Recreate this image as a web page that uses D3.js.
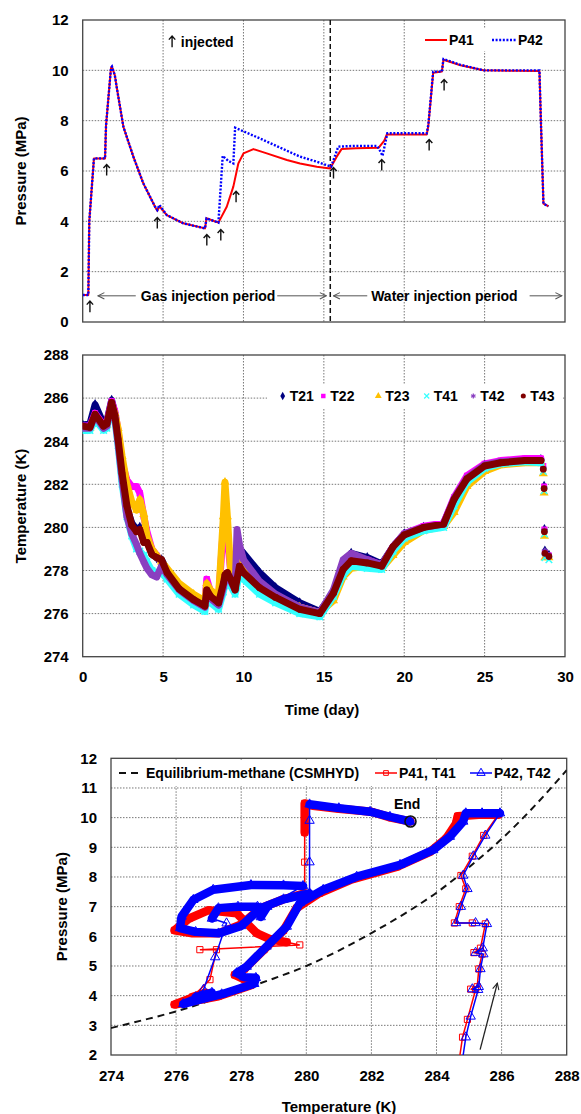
<!DOCTYPE html>
<html>
<head>
<meta charset="utf-8">
<script src="https://cdn.jsdelivr.net/npm/d3@7"></script>
<style>
body { margin: 0; background: #fff; }
svg text { font-family: "Liberation Sans", Arial, sans-serif; font-weight: bold; fill: #000; }
</style>
</head>
<body>
<svg id="chart" width="581" height="1114"></svg>
<script>
// ---- top panel: pressure vs time ----
var p41Days = [0, 0.35, 0.41, 0.56, 0.7, 1.39, 1.45, 1.76, 1.82, 2.0, 2.11, 2.53, 3.15, 3.77, 4.5, 4.64, 4.77, 5.23, 6.26, 7.61, 7.7, 8.44, 8.96, 9.37, 9.68, 10.0, 10.62, 11.45, 12.7, 13.52, 14.56, 15.39, 15.8, 16.1, 17.0, 18.4, 18.75, 18.92, 20.0, 21.4, 21.5, 21.8, 22.34, 22.44, 23.5, 24.93, 27.0, 28.41, 28.5, 28.66, 28.97];
var p41 = [1.07, 1.07, 4.0, 5.3, 6.5, 6.5, 7.8, 10.1, 10.15, 9.8, 9.35, 7.76, 6.57, 5.51, 4.58, 4.42, 4.6, 4.25, 3.92, 3.72, 4.12, 3.95, 4.58, 5.38, 6.3, 6.7, 6.87, 6.7, 6.44, 6.3, 6.17, 6.1, 6.57, 6.87, 6.9, 6.92, 7.2, 7.45, 7.45, 7.45, 7.8, 9.9, 9.95, 10.42, 10.2, 10.0, 9.98, 9.97, 8.0, 4.7, 4.6];
var p42Days = [0, 0.35, 0.41, 0.56, 0.7, 1.39, 1.45, 1.76, 1.82, 2.0, 2.11, 2.53, 3.15, 3.77, 4.5, 4.64, 4.77, 5.23, 6.26, 7.61, 7.7, 8.44, 8.71, 9.06, 9.37, 9.48, 11.0, 13.52, 14.56, 15.45, 15.9, 17.0, 18.3, 18.5, 18.65, 18.95, 20.0, 21.4, 21.5, 21.8, 22.34, 22.44, 23.5, 24.93, 27.0, 28.41, 28.5, 28.66, 28.97];
var p42 = [1.07, 1.07, 4.0, 5.3, 6.5, 6.5, 7.8, 10.1, 10.15, 9.8, 9.35, 7.76, 6.57, 5.51, 4.58, 4.45, 4.65, 4.25, 3.92, 3.72, 4.12, 3.95, 6.6, 6.4, 6.3, 7.72, 7.3, 6.57, 6.37, 6.17, 6.97, 7.0, 7.0, 6.8, 6.6, 7.5, 7.5, 7.5, 7.85, 9.95, 9.95, 10.45, 10.22, 10.0, 10.0, 10.0, 8.0, 4.7, 4.6];
// injection arrows (day, MPa at arrow centre)
var injDays = [0.45, 1.49, 4.64, 7.72, 8.59, 9.54, 15.6, 18.6, 21.55, 22.48];
var injP = [0.61, 6.04, 3.93, 3.26, 3.46, 4.98, 5.92, 6.24, 7.03, 9.42];

// ---- middle panel: temperature vs time ----
var tDays = [0, 0.45, 0.77, 1.3, 1.5, 1.8, 2.0, 2.2, 2.45, 2.75, 3.05, 3.35, 3.55, 3.8, 4.0, 4.3, 4.6, 4.9, 5.25, 6.0, 6.9, 7.6, 7.72, 7.95, 8.45, 8.75, 8.85, 9.0, 9.2, 9.48, 9.6, 9.75, 10.0, 11.0, 12.0, 13.5, 14.75, 15.6, 16.2, 16.7, 17.7, 18.6, 19.3, 20.0, 21.2, 22.45, 23.1, 23.9, 25.0, 26.0, 27.5, 28.5, 28.65, 28.7, 28.72, 28.75, 29.0];
var T21 = [284.75, 284.8, 285.7, 284.8, 284.9, 285.9, 285.3, 284.2, 282.4, 280.9, 280.2, 279.9, 280.0, 279.5, 279.4, 278.8, 278.6, 278.5, 278.0, 277.3, 276.8, 276.5, 277.2, 276.9, 276.6, 277.2, 277.6, 277.8, 277.6, 277.2, 278.2, 279.0, 278.8, 277.9, 277.2, 276.5, 276.1, 277.0, 278.3, 278.8, 278.6, 278.3, 279.1, 279.7, 280.0, 280.2, 281.3, 282.3, 282.9, 283.0, 283.1, 283.15, 282.8, 281.9, 279.9, 278.9, 278.7];
var T22 = [284.7, 284.7, 285.3, 284.75, 284.85, 285.85, 285.4, 284.5, 283.0, 282.2, 281.9, 281.9, 281.6, 280.5, 279.8, 279.0, 278.7, 278.4, 278.0, 277.3, 276.8, 276.5, 277.6, 277.0, 276.7, 280.0, 281.0, 279.5, 278.0, 277.3, 278.0, 278.6, 278.2, 277.3, 276.8, 276.3, 276.05, 277.0, 278.2, 278.6, 278.5, 278.25, 279.1, 279.7, 280.05, 280.2, 281.4, 282.4, 282.95, 283.1, 283.2, 283.2, 282.85, 281.9, 279.9, 278.8, 278.7];
var T23 = [284.65, 284.6, 285.2, 284.65, 284.75, 285.7, 285.3, 284.6, 283.3, 282.0, 281.2, 280.8, 281.3, 280.6, 279.6, 279.0, 278.7, 278.4, 278.1, 277.4, 276.9, 276.6, 277.4, 277.1, 276.8, 280.5, 282.1, 280.5, 278.0, 277.3, 278.0, 278.6, 278.3, 277.4, 276.85, 276.3, 276.05, 276.6, 277.7, 278.1, 278.2, 278.1, 278.7, 279.3, 279.85, 280.05, 280.7, 281.9, 282.6, 282.9, 283.0, 283.0, 282.5, 281.6, 279.6, 278.6, 278.6];
var T41 = [284.5, 284.5, 285.0, 284.5, 284.6, 285.6, 285.0, 283.8, 282.0, 280.5, 279.6, 279.0, 278.9, 278.7, 278.4, 278.0, 277.9, 277.9, 277.6, 276.9, 276.4, 276.1, 276.9, 276.5, 276.2, 277.0, 277.4, 277.6, 277.3, 276.9, 277.3, 277.9, 277.6, 276.9, 276.5, 276.0, 275.85, 276.8, 277.8, 278.2, 278.1, 278.05, 278.9, 279.5, 279.85, 280.0, 281.0, 282.1, 282.75, 282.95, 283.05, 283.0, 282.6, 281.7, 279.7, 278.6, 278.5];
var T42 = [284.6, 284.6, 285.2, 284.6, 284.7, 285.7, 285.1, 283.9, 282.2, 280.5, 279.7, 279.2, 278.8, 278.4, 278.1, 277.8, 277.7, 278.2, 277.8, 277.1, 276.6, 276.3, 277.0, 276.7, 276.4, 277.2, 277.6, 277.8, 277.5, 277.1, 279.9, 279.2, 278.5, 277.5, 276.9, 276.3, 276.05, 277.1, 278.5, 278.8, 278.5, 278.25, 279.1, 279.7, 280.0, 280.15, 281.35, 282.3, 282.9, 283.05, 283.1, 283.1, 282.7, 281.8, 279.85, 278.9, 278.7];
var T43 = [284.7, 284.65, 285.25, 284.7, 284.8, 285.8, 285.2, 284.1, 282.5, 281.0, 280.1, 279.8, 279.9, 279.3, 279.3, 278.75, 278.6, 278.5, 277.9, 277.15, 276.65, 276.35, 277.1, 276.8, 276.5, 277.4, 277.8, 277.9, 277.6, 277.1, 277.6, 278.2, 277.9, 277.2, 276.75, 276.2, 276.0, 276.95, 278.05, 278.45, 278.35, 278.2, 279.1, 279.65, 280.0, 280.15, 281.3, 282.25, 282.85, 283.0, 283.1, 283.1, 282.7, 281.8, 279.8, 278.8, 278.65];
var tNames = ["T21", "T22", "T23", "T41", "T42", "T43"];
var tColors = ["#000080", "#FF00FF", "#FFC000", "#33FFFF", "#8A3FC0", "#800000"];

// ---- bottom panel: pressure vs temperature ----
var eqT = [274, 275, 276, 277, 278, 279, 280, 281, 282, 283, 284, 285, 286, 287, 288];
var eqP = [2.91, 3.18, 3.47, 3.82, 4.2, 4.58, 5.0, 5.52, 6.11, 6.75, 7.47, 8.33, 9.28, 10.38, 11.6];
var redT = [284.6, 284.8, 284.95, 285.2, 285.05, 285.25, 285.3, 285.4, 285.15, 285.35, 285.5, 285.1, 284.55, 284.7, 284.9, 284.75, 285.1, 285.45, 285.9, 285.3, 284.65, 284.6, 284.3, 283.8, 282.8, 281.4, 280.4, 279.7, 279.3, 278.7, 278.1, 277.8, 278.1, 278.35, 278.3, 277.3, 275.95, 276.9, 276.5, 277.04, 277.24, 276.73, 279.8, 279.4, 278.9, 278.47, 277.86, 277.0, 276.4, 275.95, 276.5, 277.3, 278.0, 278.6, 279.3, 279.95, 279.95, 279.95, 279.95, 280.2, 281.0, 282.0, 282.6, 283.2];
var redP = [1.1, 2.6, 3.2, 4.2, 4.22, 4.3, 4.9, 5.4, 5.45, 5.6, 6.42, 6.45, 6.45, 7.0, 7.6, 8.05, 8.7, 9.4, 10.1, 10.1, 10.05, 9.8, 9.3, 8.85, 8.35, 7.92, 7.45, 6.95, 6.2, 5.55, 4.9, 4.7, 4.55, 4.5, 4.35, 3.98, 3.7, 4.1, 3.95, 4.54, 5.55, 5.55, 5.71, 5.8, 5.9, 6.11, 6.78, 6.88, 6.6, 6.2, 6.1, 6.1, 6.4, 6.95, 7.25, 7.45, 8.5, 9.5, 10.48, 10.4, 10.3, 10.2, 10.0, 9.87];
var blueT = [284.7, 284.9, 285.05, 285.28, 285.1, 285.3, 285.35, 285.44, 285.2, 285.42, 285.55, 285.2, 284.6, 284.75, 284.95, 284.82, 285.13, 285.5, 285.95, 285.4, 284.9, 284.82, 284.41, 283.9, 282.88, 281.55, 280.52, 279.8, 279.4, 278.78, 278.17, 277.86, 278.1, 278.45, 278.4, 277.4, 276.22, 277.1, 276.6, 276.84, 277.2, 277.55, 277.1, 277.3, 277.9, 278.5, 278.6, 278.8, 279.9, 279.3, 278.3, 277.14, 276.53, 276.17, 276.12, 276.6, 277.3, 278.0, 278.6, 279.3, 280.1, 280.1, 280.1, 280.1, 281.0, 281.96, 282.57, 283.19];
var blueP = [1.1, 2.6, 3.3, 4.2, 4.22, 4.3, 4.9, 5.4, 5.45, 5.6, 6.42, 6.45, 6.45, 7.0, 7.6, 8.05, 8.7, 9.4, 10.15, 10.15, 10.15, 9.87, 9.36, 8.91, 8.41, 8.01, 7.57, 7.12, 6.33, 5.66, 4.98, 4.76, 4.62, 4.6, 4.4, 4.05, 3.72, 4.1, 3.95, 4.2, 5.3, 6.44, 6.6, 6.95, 7.0, 7.0, 6.65, 7.0, 7.7, 7.72, 7.73, 7.57, 7.23, 6.67, 6.28, 6.15, 6.1, 6.35, 6.95, 7.25, 7.45, 8.5, 9.9, 10.45, 10.32, 10.2, 10.03, 9.87];
// index ranges where the markers pile up into a solid band (slow change)
var redBands = [[18, 38], [43, 55], [57, 63]];
var blueBands = [[18, 38], [42, 47], [48, 60], [63, 67]];

var svg = d3.select("#chart");

var xTime = d3.scaleLinear().domain([0, 30]).range([82.7, 565]);
var yP = d3.scaleLinear().domain([0, 12]).range([322, 20]);
var yT = d3.scaleLinear().domain([274, 288]).range([656.7, 355]);
var xPT = d3.scaleLinear().domain([274, 288]).range([111, 566.7]);
var yPT = d3.scaleLinear().domain([2, 12]).range([1055, 758.3]);

var defs = svg.append("defs");
function arrowMarker(id, color) {
  defs.append("marker").attr("id", id).attr("viewBox", "0 0 10 10")
    .attr("refX", 9).attr("refY", 5).attr("markerWidth", 8).attr("markerHeight", 8)
    .attr("markerUnits", "userSpaceOnUse").attr("orient", "auto")
    .append("path").attr("d", "M1,1 L9,5 L1,9").attr("fill", "none")
    .attr("stroke", color).attr("stroke-width", 1.3);
}
arrowMarker("ahGray", "#555");
arrowMarker("ahBlack", "#222");

function clip(id, x, y) {
  defs.append("clipPath").attr("id", id).append("rect")
    .attr("x", x.range()[0]).attr("y", y.range()[1])
    .attr("width", x.range()[1] - x.range()[0]).attr("height", y.range()[0] - y.range()[1]);
}
clip("clipTop", xTime, yP);
clip("clipMid", xTime, yT);
clip("clipBot", xPT, yPT);

// grid + frame + tick labels for one panel
function panel(x, y, xGrid, yGrid, xLabels, yLabels) {
  var g = svg.append("g");
  var x0 = x.range()[0], x1 = x.range()[1], y0 = y.range()[0], y1 = y.range()[1];
  g.selectAll(".vg").data(xGrid).enter().append("line")
    .attr("x1", d => x(d)).attr("x2", d => x(d)).attr("y1", y1).attr("y2", y0)
    .attr("stroke", "#777").attr("stroke-dasharray", "1.5,1.5");
  g.selectAll(".hg").data(yGrid).enter().append("line")
    .attr("y1", d => y(d)).attr("y2", d => y(d)).attr("x1", x0).attr("x2", x1)
    .attr("stroke", "#777").attr("stroke-dasharray", "1.5,1.5");
  g.append("rect").attr("x", x0).attr("y", y1).attr("width", x1 - x0).attr("height", y0 - y1)
    .attr("fill", "none").attr("stroke", "#444").attr("stroke-width", 1.3);
  var ya = g.append("g").attr("transform", `translate(${x0},0)`)
    .call(d3.axisLeft(y).tickValues(yLabels).tickSize(0).tickPadding(14).tickFormat(d3.format("d")));
  ya.select(".domain").remove();
  ya.selectAll("text").attr("font-size", 15);
  if (xLabels) {
    var xa = g.append("g").attr("transform", `translate(0,${y0})`)
      .call(d3.axisBottom(x).tickValues(xLabels).tickSize(0).tickPadding(15).tickFormat(d3.format("d")));
    xa.select(".domain").remove();
    xa.selectAll("text").attr("font-size", 15);
  }
  return g;
}

function title(txt, x, y, rot) {
  svg.append("text").attr("transform", `translate(${x},${y}) rotate(${rot || 0})`)
    .attr("text-anchor", "middle").attr("dominant-baseline", "central")
    .attr("font-size", 15).text(txt);
}

function upArrow(g, x, y) {
  g.append("path")
    .attr("d", `M${x},${y + 5.5}V${y - 5.5}M${x - 3.2},${y - 2}L${x},${y - 5.5}L${x + 3.2},${y - 2}`)
    .attr("fill", "none").attr("stroke", "#111").attr("stroke-width", 1.4);
}

// ================= TOP =================
panel(xTime, yP, [5, 10, 15, 20, 25], [2, 4, 6, 8, 10], null, [0, 2, 4, 6, 8, 10, 12]);
title("Pressure (MPa)", 20.7, 171, -90);

var topData = svg.append("g").attr("clip-path", "url(#clipTop)");
topData.append("line").attr("x1", xTime(15.4)).attr("x2", xTime(15.4))
  .attr("y1", yP(12)).attr("y2", yP(0))
  .attr("stroke", "#111").attr("stroke-width", 1.5).attr("stroke-dasharray", "5,3");

var lineTop = d3.line().x(d => xTime(d[0])).y(d => yP(d[1]));
topData.append("path").datum(d3.zip(p41Days, p41)).attr("d", lineTop)
  .attr("fill", "none").attr("stroke", "#FF0000").attr("stroke-width", 2).attr("stroke-linejoin", "round");
topData.append("path").datum(d3.zip(p42Days, p42)).attr("d", lineTop)
  .attr("fill", "none").attr("stroke", "#0000FF").attr("stroke-width", 2.4).attr("stroke-dasharray", "2,1.6");

injDays.forEach((d, i) => upArrow(svg, xTime(d), yP(injP[i])));

// "injected" key
upArrow(svg, xTime(5.56), yP(11.14));
svg.append("text").attr("x", xTime(6.1)).attr("y", yP(11.14) + 5).attr("font-size", 14).text("injected");

// legend P41 / P42
svg.append("rect").attr("x", 420).attr("y", 29).attr("width", 142).attr("height", 22).attr("fill", "#fff");
svg.append("line").attr("x1", 425).attr("x2", 447).attr("y1", 40).attr("y2", 40)
  .attr("stroke", "#FF0000").attr("stroke-width", 2);
svg.append("text").attr("x", 449).attr("y", 45).attr("font-size", 14).text("P41");
svg.append("line").attr("x1", 492).attr("x2", 517).attr("y1", 40).attr("y2", 40)
  .attr("stroke", "#0000FF").attr("stroke-width", 2.4).attr("stroke-dasharray", "2,1.6");
svg.append("text").attr("x", 518).attr("y", 45).attr("font-size", 14).text("P42");

// period annotations
var perY = yP(1.04);
function periodArrow(a, b) {
  svg.append("line").attr("x1", xTime(a)).attr("x2", xTime(b)).attr("y1", perY).attr("y2", perY)
    .attr("stroke", "#555").attr("stroke-width", 1).attr("marker-end", "url(#ahGray)");
}
periodArrow(3.3, 0.95);
periodArrow(12.1, 15.15);
periodArrow(17.7, 15.6);
periodArrow(27.8, 29.8);
svg.append("text").attr("x", xTime(7.8)).attr("y", perY + 5).attr("text-anchor", "middle")
  .attr("font-size", 14).text("Gas injection period");
svg.append("text").attr("x", xTime(22.5)).attr("y", perY + 5).attr("text-anchor", "middle")
  .attr("font-size", 14).text("Water injection period");

// ================= MIDDLE =================
panel(xTime, yT, [5, 10, 15, 20, 25], [276, 278, 280, 282, 284, 286],
  [0, 5, 10, 15, 20, 25, 30], [274, 276, 278, 280, 282, 284, 286, 288]);
title("Temperature (K)", 20.7, 506, -90);
title("Time (day)", 322, 709);

var tSeries = [T21, T22, T23, T41, T42, T43];
var symTimes = d3.symbolTimes || d3.symbolCross;
var symAst = d3.symbolAsterisk || d3.symbolStar;
var tSymbols = [d3.symbolDiamond, d3.symbolSquare, d3.symbolTriangle, symTimes, symAst, d3.symbolCircle];
var strokeSym = [false, false, false, true, true, false];

var midData = svg.append("g").attr("clip-path", "url(#clipMid)");
var lineMid = d3.line().defined(d => d[0] <= 28.5).x(d => xTime(d[0])).y(d => yT(d[1]));
tSeries.forEach((s, k) => {
  var pts = d3.zip(tDays, s);
  midData.append("path").datum(pts).attr("d", lineMid)
    .attr("fill", "none").attr("stroke", tColors[k]).attr("stroke-width", 7)
    .attr("stroke-linejoin", "round").attr("stroke-linecap", "round");
  midData.selectAll(null).data(pts).enter().append("path")
    .attr("transform", d => `translate(${xTime(d[0])},${yT(d[1])})`)
    .attr("d", d3.symbol().type(tSymbols[k]).size(strokeSym[k] ? 30 : 36))
    .attr("fill", strokeSym[k] ? "none" : tColors[k])
    .attr("stroke", strokeSym[k] ? tColors[k] : "none").attr("stroke-width", 1.5);
});

// legend
svg.append("rect").attr("x", 267).attr("y", 385).attr("width", 296).attr("height", 23).attr("fill", "#fff");
var legX = [282.7, 323.3, 378.3, 426.7, 473.3, 523.3];
tNames.forEach((n, k) => {
  svg.append("path").attr("transform", `translate(${legX[k]},396)`)
    .attr("d", d3.symbol().type(tSymbols[k]).size(strokeSym[k] ? 18 : 20))
    .attr("fill", strokeSym[k] ? "none" : tColors[k])
    .attr("stroke", strokeSym[k] ? tColors[k] : "none").attr("stroke-width", 1.2);
  svg.append("text").attr("x", legX[k] + 7).attr("y", 401).attr("font-size", 14).text(n);
});

// ================= BOTTOM =================
panel(xPT, yPT, [276, 278, 280, 282, 284, 286], [3, 4, 5, 6, 7, 8, 9, 10, 11],
  [274, 276, 278, 280, 282, 284, 286, 288], [2, 3, 4, 5, 6, 7, 8, 9, 10, 11, 12]);
title("Pressure (MPa)", 61.7, 906.7, -90);
title("Temperature (K)", 339, 1106);

var botData = svg.append("g").attr("clip-path", "url(#clipBot)");
var linePT = d3.line().x(d => xPT(d[0])).y(d => yPT(d[1]));
botData.append("path").datum(d3.zip(eqT, eqP)).attr("d", d3.line().curve(d3.curveMonotoneX).x(d => xPT(d[0])).y(d => yPT(d[1])))
  .attr("fill", "none").attr("stroke", "#111").attr("stroke-width", 2).attr("stroke-dasharray", "7,5");

function ptSeries(T, P, bands, color, sym) {
  var pts = d3.zip(T, P);
  bands.forEach(b => {
    botData.append("path").datum(pts.slice(b[0], b[1] + 1)).attr("d", linePT)
      .attr("fill", "none").attr("stroke", color).attr("stroke-width", 8.5)
      .attr("stroke-linejoin", "round").attr("stroke-linecap", "round");
  });
  botData.append("path").datum(pts).attr("d", linePT)
    .attr("fill", "none").attr("stroke", color).attr("stroke-width", 1.5);
  botData.selectAll(null).data(pts).enter().append("path")
    .attr("transform", d => `translate(${xPT(d[0])},${yPT(d[1])})`)
    .attr("d", d3.symbol().type(sym).size(38))
    .attr("fill", "none").attr("stroke", color).attr("stroke-width", 1);
}
ptSeries(redT, redP, redBands, "#FF0000", d3.symbolSquare);
ptSeries(blueT, blueP, blueBands, "#0000FF", d3.symbolTriangle);

// End marker
svg.append("circle").attr("cx", xPT(283.2)).attr("cy", yPT(9.87)).attr("r", 5.5)
  .attr("fill", "none").attr("stroke", "#111").attr("stroke-width", 1.6);
svg.append("text").attr("x", xPT(283.1)).attr("y", yPT(10.45) + 5).attr("text-anchor", "middle")
  .attr("font-size", 14).text("End");

// time direction arrow
svg.append("line").attr("x1", xPT(285.34)).attr("y1", yPT(2.18)).attr("x2", xPT(285.87)).attr("y2", yPT(4.42))
  .attr("stroke", "#222").attr("stroke-width", 1.3).attr("marker-end", "url(#ahBlack)");

// legend
svg.append("rect").attr("x", 113).attr("y", 760).attr("width", 440).attr("height", 26).attr("fill", "#fff");
svg.append("line").attr("x1", 119).attr("x2", 143).attr("y1", 773).attr("y2", 773)
  .attr("stroke", "#111").attr("stroke-width", 2).attr("stroke-dasharray", "7,5");
svg.append("text").attr("x", 146).attr("y", 778).attr("font-size", 14).text("Equilibrium-methane (CSMHYD)");
svg.append("line").attr("x1", 375).attr("x2", 397).attr("y1", 773).attr("y2", 773)
  .attr("stroke", "#FF0000").attr("stroke-width", 1.5);
svg.append("path").attr("transform", "translate(386,773)").attr("d", d3.symbol().type(d3.symbolSquare).size(22))
  .attr("fill", "none").attr("stroke", "#FF0000");
svg.append("text").attr("x", 399).attr("y", 778).attr("font-size", 14).text("P41, T41");
svg.append("line").attr("x1", 470).attr("x2", 492).attr("y1", 773).attr("y2", 773)
  .attr("stroke", "#0000FF").attr("stroke-width", 1.5);
svg.append("path").attr("transform", "translate(481,773)").attr("d", d3.symbol().type(d3.symbolTriangle).size(30))
  .attr("fill", "none").attr("stroke", "#0000FF");
svg.append("text").attr("x", 494).attr("y", 778).attr("font-size", 14).text("P42, T42");
</script>
</body>
</html>
